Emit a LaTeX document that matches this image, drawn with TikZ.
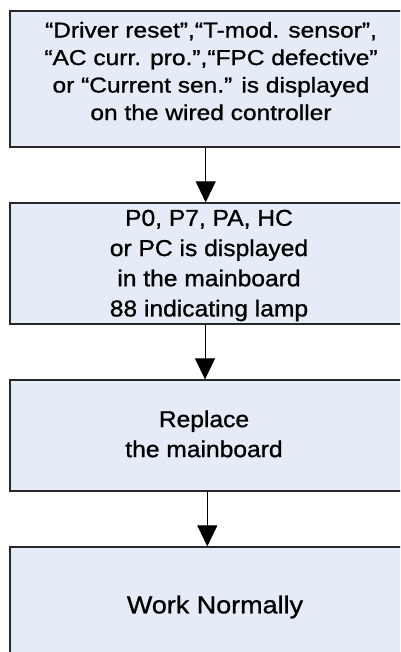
\documentclass[tikz,border=0pt]{standalone}
\usepackage{fontspec}
\setmainfont{Liberation Sans}
\newfontfamily\boxfonta[FakeStretch=1.14,FakeBold=1]{Liberation Sans}
\newfontfamily\boxfontb[FakeStretch=1.07,FakeBold=1]{Liberation Sans}
\newfontfamily\boxfontc[FakeStretch=1.1,FakeBold=1]{Liberation Sans}
\usetikzlibrary{arrows.meta}
\definecolor{boxfill}{RGB}{229,236,247}
\definecolor{boxline}{RGB}{40,40,40}
\tikzset{
  flowbox/.style={draw=boxline, line width=1.3pt, fill=boxfill, minimum width=400pt, inner sep=0pt, rectangle},
  flowtext/.style={align=center, inner sep=0pt, text=black},
  flowarrow/.style={draw=black, line width=1pt, -{Triangle[width=20pt,length=21pt]}}
}
\begin{document}
\begin{tikzpicture}[x=1pt,y=-1pt]
\useasboundingbox (0,0) rectangle (400,652);
\clip (0,0) rectangle (400,652);
\node[flowbox, minimum height=136pt] (b1) at (210,79) {};
\node[flowbox, minimum height=121pt] (b2) at (210,263.5) {};
\node[flowbox, minimum height=111pt] (b3) at (210,435.5) {};
\node[flowbox, minimum height=120pt] (b4) at (210,607) {};
\node[flowtext, font={\boxfonta\fontsize{21.5pt}{27.5pt}\selectfont}] (t1) at (211,71.1)
  {“Driver reset”,“T-mod. sensor”,\\“AC curr. pro.”,“FPC defective”\\or “Current sen.” is displayed\\on the wired controller};
\node[flowtext, font={\boxfontb\fontsize{23pt}{30.2pt}\selectfont}] (t2) at (209,265.5)
  {P0, P7, PA, HC\\or PC is displayed\\in the mainboard\\88 indicating lamp};
\node[flowtext, font={\boxfontb\fontsize{23pt}{30pt}\selectfont}] (t3) at (204,433.9)
  {Replace\\the mainboard};
\node[flowtext, font={\boxfontc\fontsize{24.5pt}{30pt}\selectfont}] (t4) at (215,607)
  {Work Normally};
\draw[flowarrow] ([xshift=-4.3pt]b1.south) -- ([xshift=-4.3pt]b2.north);
\draw[flowarrow] ([xshift=-5pt]b2.south) -- ([xshift=-5pt]b3.north);
\draw[flowarrow] ([xshift=-2.7pt]b3.south) -- ([xshift=-2.7pt]b4.north);
\end{tikzpicture}
\end{document}
